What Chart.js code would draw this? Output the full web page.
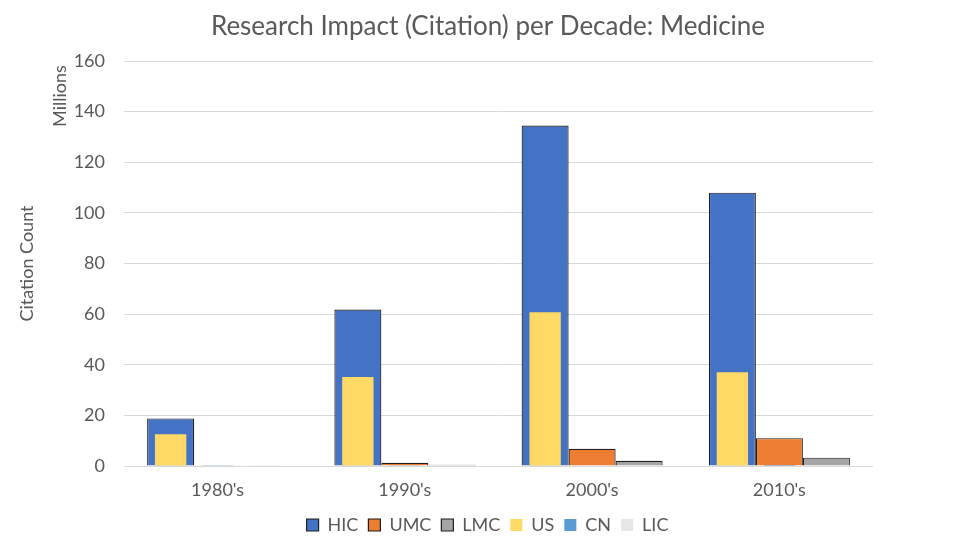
<!DOCTYPE html>
<html>
<head>
<meta charset="utf-8">
<script src="https://cdn.jsdelivr.net/npm/chart.js@4.4.1/dist/chart.umd.min.js"></script>
<style>
html,body{margin:0;padding:0;background:#fff;}
#wrap{width:975px;height:548px;position:relative;}
</style>
</head>
<body>
<div id="wrap"><canvas id="c" width="975" height="548"></canvas></div>
<script>
const categories = ["1980's", "1990's", "2000's", "2010's"];
const hic = [18.8, 61.8, 134.5, 108.0];
const umc = [0.3, 1.3, 6.8, 11.0];
const lmc = [0.2, 0.5, 2.1, 3.3];
const us  = [12.5, 35.2, 60.7, 37.0];
const cn  = [0.05, 0.1, 0.2, 0.35];
const lic = [0.02, 0.05, 0.1, 0.3];
const yTicks = [0, 20, 40, 60, 80, 100, 120, 140, 160];

const FONT = 'Lato, "Open Sans", sans-serif';
const TXT = '#595959';

const overlayText = {
  id: 'overlayText',
  afterDraw(chart) {
    const ctx = chart.ctx;
    ctx.save();
    ctx.fillStyle = TXT;
    ctx.font = '26px ' + FONT;
    ctx.textAlign = 'center';
    ctx.textBaseline = 'middle';
    ctx.fillText('Research Impact (Citation) per Decade: Medicine', 488, 27);
    ctx.translate(60, 96);
    ctx.rotate(-Math.PI / 2);
    ctx.font = '18px ' + FONT;
    ctx.fillText('Millions', 0, 0);
    ctx.restore();
  }
};

const mainDs = (label, data, color, stack) => ({
  label, data, backgroundColor: color, borderColor: '#1e1e1e', borderWidth: 1.2,
  stack, order: 1, categoryPercentage: 0.753, barPercentage: 1.0
});
const overDs = (label, data, color, stack) => ({
  label, data, backgroundColor: color, borderWidth: 0,
  stack, order: 0, categoryPercentage: 0.753, barPercentage: 0.667
});

new Chart(document.getElementById('c'), {
  type: 'bar',
  data: {
    labels: categories,
    datasets: [
      mainDs('HIC', hic, '#4472C4', 'a'),
      mainDs('UMC', umc, '#ED7D31', 'b'),
      mainDs('LMC', lmc, '#A5A5A5', 'c'),
      overDs('US', us, '#FFD966', 'a'),
      overDs('CN', cn, '#5B9BD5', 'b'),
      overDs('LIC', lic, '#E7E6E6', 'c')
    ]
  },
  options: {
    responsive: false,
    animation: false,
    layout: { padding: { top: 61, right: 0, left: 0, bottom: 4 } },
    plugins: {
      title: { display: false },
      tooltip: { enabled: false },
      legend: {
        position: 'bottom',
        labels: {
          color: TXT, font: { family: FONT, size: 18 },
          boxWidth: 12, boxHeight: 12, padding: 10,
          sort: (a, b) => a.datasetIndex - b.datasetIndex
        }
      }
    },
    scales: {
      x: {
        type: 'category',
        grid: { display: false, drawTicks: false },
        border: { display: false },
        ticks: { color: TXT, font: { family: FONT, size: 18 }, padding: 13 },
        afterFit(s) { s.height = 40; }
      },
      y: {
        min: 0, max: 160, stacked: false,
        afterBuildTicks(s) { s.ticks = yTicks.map(v => ({ value: v })); },
        grid: { color: '#D9D9D9', drawTicks: false },
        border: { display: false },
        ticks: { color: TXT, font: { family: FONT, size: 18 }, padding: 19 },
        title: { display: true, text: 'Citation Count', color: TXT,
                 font: { family: FONT, size: 18 }, padding: { top: 16, bottom: 0 } },
        afterFit(s) { s.width = 124; }
      },
      yR: {
        position: 'right',
        display: true,
        grid: { display: false, drawTicks: false },
        border: { display: false },
        ticks: { display: false },
        afterFit(s) { s.width = 102; }
      }
    }
  },
  plugins: [overlayText]
});
</script>
</body>
</html>
